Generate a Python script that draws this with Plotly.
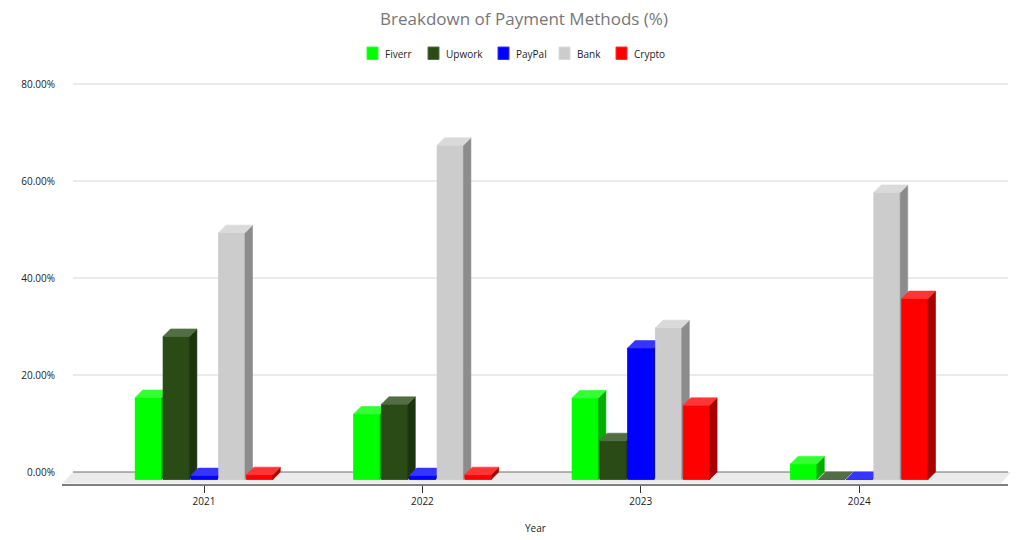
import plotly.graph_objects as go

# ---------------- data ----------------
years = ["2021", "2022", "2023", "2024"]
series_names = ["Fiverr", "Upwork", "PayPal", "Bank", "Crypto"]
fiverr = [16.9, 13.5, 16.8, 3.2]
upwork = [29.5, 15.5, 8.0, 0.0]
paypal = [0.8, 0.8, 27.1, 0.0]
bank = [50.9, 68.9, 31.3, 59.2]
crypto = [1.0, 1.0, 15.3, 37.3]
y_ticks = [0, 20, 40, 60, 80]
x_title = "Year"

series_values = [fiverr, upwork, paypal, bank, crypto]

# ---------------- styles ----------------
front_colors = ["#00FF00", "#2A4B16", "#0000FF", "#CCCCCC", "#FF0000"]
top_colors = ["#33FF33", "#536E45", "#3535FF", "#DADADA", "#FF3535"]
side_colors = ["#00AD00", "#1C330F", "#0000AD", "#8C8C8C", "#A80000"]

OFF = 8                     # page body margin (screen px)
W, H = 1025 - 2 * OFF, 540 - OFF


def sx_(px):  # screen x -> figure x
    return px - OFF


def sy_(py):  # screen y -> figure y
    return py - OFF


ML = sx_(62)
MR = W - sx_(1008)
MT = sy_(75)
MB = H - sy_(484)
PX_PER_X = 218.4
PX_PER_Y = 4.85
ZERO_PX_X = sx_(204.0)
ZERO_PX_Y = sy_(472.0)

plot_w = W - ML - MR
plot_h = H - MT - MB
x_lo = (ML - ZERO_PX_X) / PX_PER_X
x_hi = x_lo + plot_w / PX_PER_X
y_hi = (ZERO_PX_Y - MT) / PX_PER_Y
y_lo = y_hi - plot_h / PX_PER_Y

SLOT = 27.8 / PX_PER_X
BW = 26.4 / PX_PER_X
DX = 7.5 / PX_PER_X
DY = 7.5 / PX_PER_Y

fig = go.Figure()

# real bars (front faces)
for i, (name, vals) in enumerate(zip(series_names, series_values)):
    xs = [j + (i - 2) * SLOT for j in range(len(years))]
    fig.add_trace(go.Bar(
        x=xs, y=vals, base=[-DY] * len(vals), width=BW,
        name=name, marker=dict(color=front_colors[i], line=dict(width=0)),
        hoverinfo="skip", showlegend=False,
    ))

# 3D faces, painted left to right
for i, (name, vals) in enumerate(zip(series_names, series_values)):
    fx, fy, tx, ty, kx, ky = [], [], [], [], [], []
    for j, v in enumerate(vals):
        c = j + (i - 2) * SLOT
        x0, x1 = c - BW / 2, c + BW / 2
        fx += [x0, x1, x1, x0, x0, None]
        fy += [-DY, -DY, v - DY, v - DY, -DY, None]
        tx += [x0, x1, x1 + DX, x0 + DX, x0, None]
        ty += [v - DY, v - DY, v, v, v - DY, None]
        kx += [x1, x1 + DX, x1 + DX, x1, x1, None]
        ky += [-DY, 0, v, v - DY, -DY, None]
    for xx, yy, col in ((fx, fy, front_colors[i]), (kx, ky, side_colors[i]), (tx, ty, top_colors[i])):
        fig.add_trace(go.Scatter(
            x=xx, y=yy, mode="lines", fill="toself", fillcolor=col,
            line=dict(color=col, width=0.6), hoverinfo="skip",
            showlegend=False,
        ))


def pb(px_screen):  # screen x -> paper x
    return (sx_(px_screen) - ML) / plot_w


def pv(py_screen):  # screen y -> paper y
    return (H - MB - sy_(py_screen)) / plot_h


# floor and grid (decoration)
y_front = (ZERO_PX_Y - sy_(483.5)) / PX_PER_Y
shapes = [dict(
    type="path", xref="paper", yref="y", layer="below",
    path=f"M{pb(73)},0 L{pb(1011)},0 L{pb(1001)},{y_front} L{pb(62)},{y_front} Z",
    fillcolor="#EBEBEB", line=dict(width=0),
)]
for t in y_ticks[1:]:
    shapes.append(dict(type="line", xref="paper", yref="y", layer="below",
                       x0=pb(73), x1=1, y0=t, y1=t,
                       line=dict(color="#D6D6D6", width=1)))
shapes.append(dict(type="line", xref="paper", yref="y", layer="below",
                   x0=pb(73), x1=1, y0=0, y1=0,
                   line=dict(color="#6E6E6E", width=1)))

# manual legend (swatch + label)
legend_swatch_x = [367, 428, 498, 559, 616]
annotations = []
for i, name in enumerate(series_names):
    xs0 = legend_swatch_x[i]
    shapes.append(dict(type="rect", xref="paper", yref="paper",
                       x0=pb(xs0), x1=pb(xs0 + 11), y0=pv(59.5), y1=pv(47),
                       fillcolor=front_colors[i], line=dict(color=top_colors[i], width=1)))
    annotations.append(dict(xref="paper", yref="paper", x=pb(xs0 + 16), y=pv(53.5),
                            text=name, showarrow=False, xanchor="left", yanchor="middle",
                            font=dict(family="Open Sans", size=10, color="#222222")))

# x axis title
annotations.append(dict(xref="paper", yref="paper", x=0.5, y=pv(528),
                        text=x_title, showarrow=False, xanchor="center", yanchor="middle",
                        font=dict(family="Open Sans", size=10, color="#222222")))

fig.update_layout(
    width=W, height=H,
    margin=dict(l=ML, r=MR, t=MT, b=MB, pad=0),
    paper_bgcolor="white", plot_bgcolor="white",
    barmode="overlay",
    showlegend=False,
    shapes=shapes,
    annotations=annotations,
    title=dict(text="Breakdown of Payment Methods (%)", x=sx_(524) / W, xanchor="center",
               y=1 - sy_(19) / H, yanchor="middle",
               font=dict(family="Open Sans", size=17, color="#777777")),
    font=dict(family="Open Sans", size=10, color="#333333"),
)
fig.update_xaxes(
    range=[x_lo, x_hi], tickvals=list(range(len(years))), ticktext=years,
    showgrid=False, zeroline=False, showline=True, linecolor="#7F7F7F", linewidth=2,
    ticks="outside", ticklen=7, tickcolor="#333333", tickwidth=1,
    tickfont=dict(family="Open Sans", size=10, color="#222222"),
    automargin=False,
)
fig.update_yaxes(
    range=[y_lo, y_hi], tickvals=y_ticks, ticktext=[f"{t:.2f}%" for t in y_ticks],
    showgrid=False, zeroline=False, showline=False, ticks="",
    ticklabelstandoff=6, automargin=False,
    tickfont=dict(family="Open Sans", size=10, color="#222222"),
)

fig.write_html("out.html")
